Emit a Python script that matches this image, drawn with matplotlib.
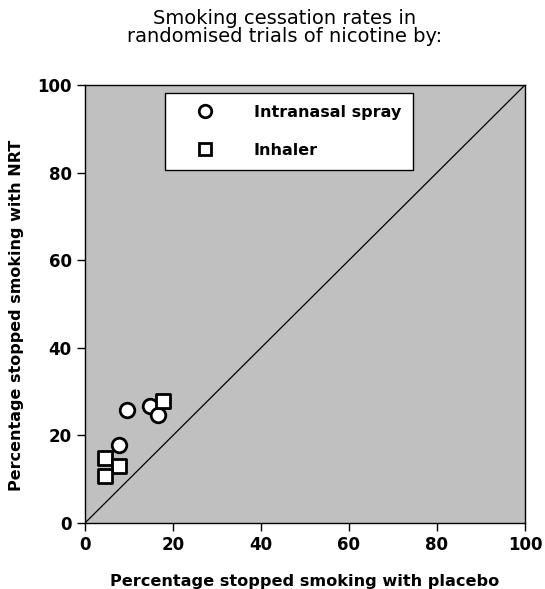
import matplotlib
matplotlib.use("Agg")
import matplotlib.pyplot as plt
from matplotlib.lines import Line2D

spray_placebo = [9.5, 14.8, 16.6, 7.7]
spray_nrt = [25.8, 26.8, 24.7, 17.8]
inhaler_placebo = [17.7, 4.6, 7.7, 4.6]
inhaler_nrt = [27.8, 14.9, 12.9, 10.7]
ticks = [0, 20, 40, 60, 80, 100]

plt.rcParams['font.family'] = ['DejaVu Sans']

fig = plt.figure(figsize=(5.45, 5.89), dpi=100)
ax = fig.add_axes([85/545, 66/589, 440/545, 438/589])
ax.set_facecolor('#c0c0c0')
ax.set_xlim(0, 100)
ax.set_ylim(0, 100)
ax.plot([0, 100], [0, 100], color='black', lw=0.9)

ax.scatter(spray_placebo, spray_nrt, marker='o', s=110, facecolor='white',
           edgecolor='black', linewidths=2, zorder=3)
ax.scatter(inhaler_placebo, inhaler_nrt, marker='s', s=110, facecolor='white',
           edgecolor='black', linewidths=2, zorder=3)

ax.set_xticks(ticks)
ax.set_yticks(ticks)
ax.set_xticklabels([str(t) for t in ticks], fontsize=12, fontweight='bold')
ax.set_yticklabels([str(t) for t in ticks], fontsize=12, fontweight='bold')
ax.tick_params(direction='out', length=6, width=1)
for s in ax.spines.values():
    s.set_linewidth(1)

ax.set_xlabel('Percentage stopped smoking with placebo', fontsize=11.6,
              fontweight='bold', labelpad=14)
ax.set_ylabel('Percentage stopped smoking with NRT', fontsize=11.5,
              fontweight='bold')
ax.yaxis.set_label_coords(-0.138, 0.475)

fig.text(0.523, 0.985, 'Smoking cessation rates in\nrandomised trials of nicotine by:',
         ha='center', va='top', fontsize=14, linespacing=0.95)

handles = [Line2D([], [], marker='o', ls='none', markersize=9, markerfacecolor='white',
                  markeredgecolor='black', markeredgewidth=2),
           Line2D([], [], marker='s', ls='none', markersize=9, markerfacecolor='white',
                  markeredgecolor='black', markeredgewidth=2)]
leg = ax.legend(handles, ['Intranasal spray', 'Inhaler'], loc='upper left',
                bbox_to_anchor=(0.182, 0.982), bbox_transform=ax.transAxes,
                frameon=True, fancybox=False, borderpad=0.75,
                handlelength=3.5, handletextpad=1.3, labelspacing=1.45,
                borderaxespad=0, prop={'weight': 'bold', 'size': 11.5})
leg.get_frame().set_edgecolor('black')
leg.get_frame().set_linewidth(1)
leg.get_frame().set_alpha(1)

fig.savefig('out.png', dpi=100)
